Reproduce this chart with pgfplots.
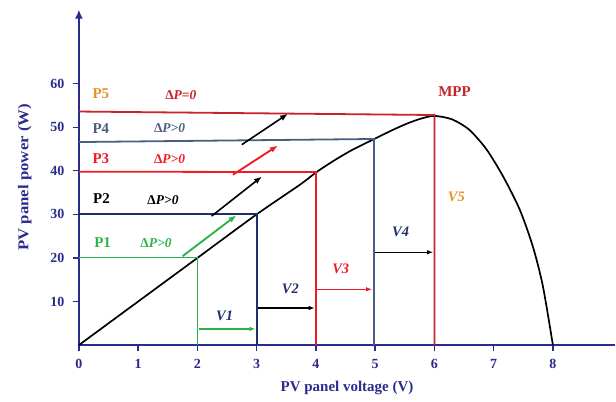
\documentclass[border=0pt]{standalone}
\usepackage{pgfplots}
\pgfplotsset{compat=1.18}
\usetikzlibrary{arrows.meta}
\usepackage{fontspec}
\setmainfont{Liberation Serif}
\definecolor{navy}{HTML}{2B2B8C}
\definecolor{pgreen}{HTML}{2DB34A}
\definecolor{pred}{HTML}{EE1C24}
\definecolor{mred}{HTML}{C8232C}
\definecolor{slate}{HTML}{4A5F80}
\definecolor{dnavy}{HTML}{1F2F6E}
\definecolor{porange}{HTML}{E8902A}
\begin{document}
\begin{tikzpicture}
\begin{axis}[
  scale only axis, width=537pt, height=336pt,
  xmin=0, xmax=9.05, ymin=0, ymax=77,
  axis lines=left,
  axis line style={navy, line width=1.8pt},
  x axis line style={-},
  y axis line style={-{Latex[length=9pt,width=8pt]}},
  xtick={0,1,...,8}, ytick={10,20,...,60},
  tick align=outside, major tick length=6pt,
  tick style={navy, line width=1.4pt},
  ticklabel style={font=\fontsize{14}{16}\selectfont\bfseries, text=navy},
  xticklabel style={yshift=-5pt},
  yticklabel style={xshift=-5pt},
  /pgf/number format/assume math mode=true,
  xlabel={PV panel voltage (V)}, ylabel={\scalebox{1.12}[1]{PV panel power (W)}},
  label style={font=\fontsize{15}{17}\selectfont\bfseries, text=navy},
  xlabel style={yshift=-5pt}, ylabel style={yshift=12pt},
  clip=false,
]
\path (axis cs:-1.332,-13.04) rectangle (axis cs:9.056,79.2);
% PV curve
\addplot[black, line width=1.7pt, smooth, tension=0.45] coordinates {
(0,0) (1,10) (2,20) (3,30) (3.73,36.8) (4.01,39.7) (4.3,42.3) (4.6,44.7) (5.0,47.4) (5.3,49.4)
(5.55,50.9) (5.78,52.0) (6.0,52.6) (6.3,51.8) (6.59,49.4) (6.88,44.9) (7.16,38.7) (7.44,31.1)
(7.66,22.7) (7.83,13.6) (8.0,0)};
% horizontal/vertical lines
\addplot[pgreen, line width=1.8pt] coordinates {(0,20.1) (2,20.1) (2,0)};
\addplot[dnavy, line width=1.8pt] coordinates {(0,30) (3,30) (3,0)};
\addplot[pred, line width=1.8pt] coordinates {(0,39.8) (4,39.7) (4,0)};
\addplot[slate, line width=1.8pt] coordinates {(0,46.6) (4.98,47.3) (4.98,0)};
\addplot[mred, line width=1.8pt] coordinates {(0,53.6) (6,52.8) (6,0)};
% voltage arrows
\addplot[pgreen, line width=1.5pt, -{Latex[length=6pt]}] coordinates {(2.02,3.7) (2.98,3.7)};
\addplot[black, line width=1.3pt, -{Latex[length=6pt]}] coordinates {(3.03,8.5) (3.98,8.5)};
\addplot[pred, line width=1.5pt, -{Latex[length=6pt]}] coordinates {(4.02,12.8) (4.95,12.8)};
\addplot[black, line width=1.3pt, -{Latex[length=6pt]}] coordinates {(5.0,21.3) (5.98,21.3)};
% diagonal arrows
\addplot[pgreen, line width=1.9pt, -{Latex[length=8pt]}] coordinates {(1.75,20.4) (2.66,29.8)};
\addplot[black, line width=1.6pt, -{Latex[length=8pt]}] coordinates {(2.24,29.6) (3.09,38.7)};
\addplot[pred, line width=1.9pt, -{Latex[length=8pt]}] coordinates {(2.6,39.1) (3.36,45.8)};
\addplot[black, line width=1.6pt, -{Latex[length=8pt]}] coordinates {(2.75,46) (3.53,53.1)};
% labels
\begin{scope}[font=\fontsize{15}{17}\selectfont\bfseries]
\node[text=porange] at (axis cs:0.37,57.7) {P5};
\node[text=slate] at (axis cs:0.37,49.6) {P4};
\node[text=pred] at (axis cs:0.37,42.7) {P3};
\node[text=black] at (axis cs:0.38,33.6) {P2};
\node[text=pgreen] at (axis cs:0.40,23.5) {P1};
\node[text=mred] at (axis cs:6.34,58.1) {MPP};
\end{scope}
\begin{scope}[font=\fontsize{13.5}{15}\selectfont\bfseries\itshape]
\node[text=mred] at (axis cs:1.72,57.4) {{\upshape Δ}P=0};
\node[text=slate] at (axis cs:1.53,49.8) {{\upshape Δ}P>0};
\node[text=pred] at (axis cs:1.53,42.7) {{\upshape Δ}P>0};
\node[text=black] at (axis cs:1.42,33.2) {{\upshape Δ}P>0};
\node[text=pgreen] at (axis cs:1.30,23.5) {{\upshape Δ}P>0};
\end{scope}
\begin{scope}[font=\fontsize{14.5}{16}\selectfont\bfseries\itshape]
\node[text=porange] at (axis cs:6.37,33.9) {V5};
\node[text=dnavy] at (axis cs:5.43,25.9) {V4};
\node[text=pred] at (axis cs:4.42,17.4) {V3};
\node[text=dnavy] at (axis cs:3.57,12.8) {V2};
\node[text=dnavy] at (axis cs:2.46,6.6) {V1};
\end{scope}
\end{axis}
\end{tikzpicture}
\end{document}
